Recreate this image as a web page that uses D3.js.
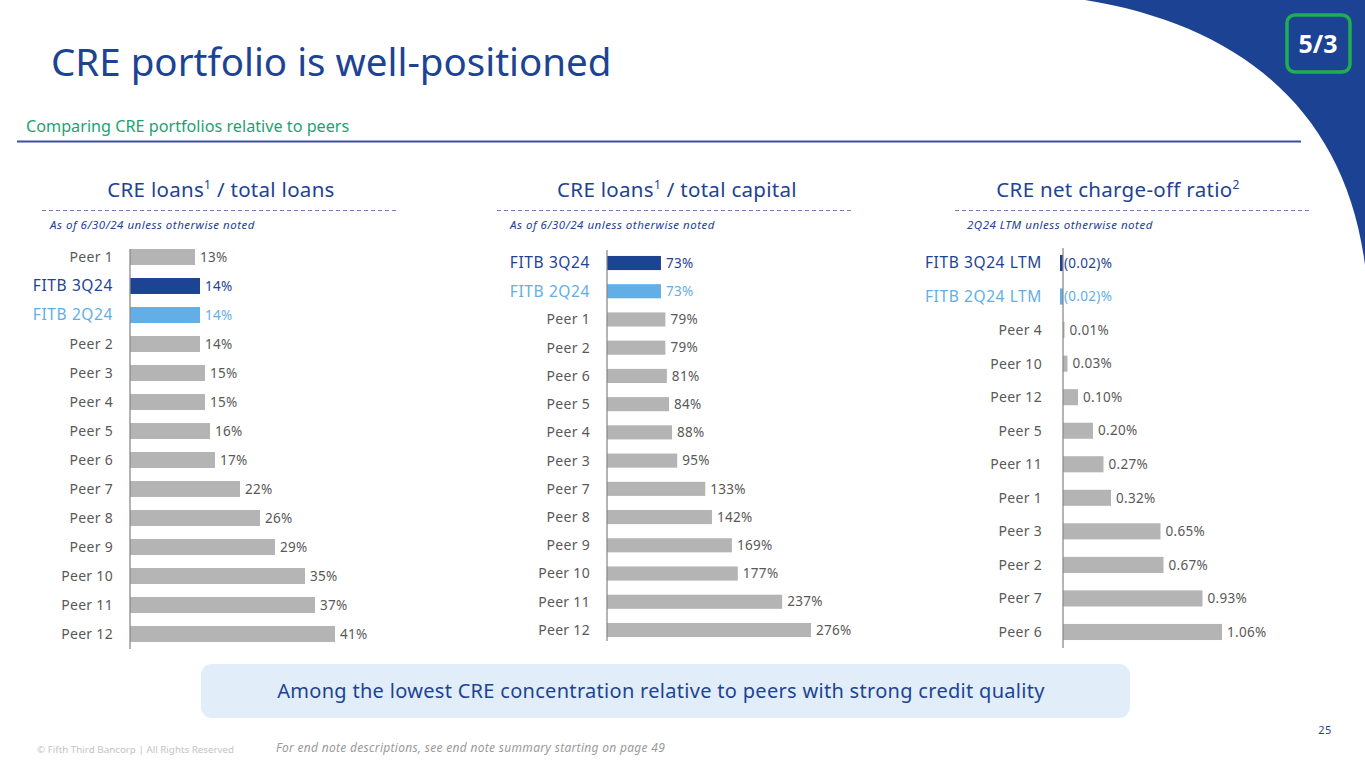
<!DOCTYPE html>
<html>
<head>
<meta charset="utf-8">
<script src="https://cdn.jsdelivr.net/npm/d3@7"></script>
<style>
  html, body { margin: 0; padding: 0; background: #fff; }
  #chart { width: 1365px; height: 768px; }
  text { font-family: "Noto Sans", "Open Sans", sans-serif; }
</style>
</head>
<body>
<div id="chart"></div>
<script>
const loanCats = ["Peer 1", "FITB 3Q24", "FITB 2Q24", "Peer 2", "Peer 3", "Peer 4", "Peer 5", "Peer 6", "Peer 7", "Peer 8", "Peer 9", "Peer 10", "Peer 11", "Peer 12"];
const loanVals = [13, 14, 14, 14, 15, 15, 16, 17, 22, 26, 29, 35, 37, 41];

const capCats = ["FITB 3Q24", "FITB 2Q24", "Peer 1", "Peer 2", "Peer 6", "Peer 5", "Peer 4", "Peer 3", "Peer 7", "Peer 8", "Peer 9", "Peer 10", "Peer 11", "Peer 12"];
const capVals = [73, 73, 79, 79, 81, 84, 88, 95, 133, 142, 169, 177, 237, 276];

const ncoCats = ["FITB 3Q24 LTM", "FITB 2Q24 LTM", "Peer 4", "Peer 10", "Peer 12", "Peer 5", "Peer 11", "Peer 1", "Peer 3", "Peer 2", "Peer 7", "Peer 6"];
const ncoVals = [-0.02, -0.02, 0.01, 0.03, 0.10, 0.20, 0.27, 0.32, 0.65, 0.67, 0.93, 1.06];

const NAVY = "#1d4393";
const LIGHT = "#62aee6";
const GREY = "#b4b4b4";
const TEXT_GREY = "#595959";

const svg = d3.select("#chart").append("svg")
  .attr("width", 1365).attr("height", 768)
  .attr("viewBox", "0 0 1365 768");

// top-right corner swoosh + logo
svg.append("path")
  .attr("d", "M1085,0 C1240,25 1345,110 1365,265 L1365,0 Z")
  .attr("fill", "#1c4393");

svg.append("rect")
  .attr("x", 1287).attr("y", 15).attr("width", 63).attr("height", 57).attr("rx", 8)
  .attr("fill", "#1c4393").attr("stroke", "#1fae52").attr("stroke-width", 3.5);
svg.append("text")
  .attr("x", 1318).attr("y", 53).attr("text-anchor", "middle")
  .attr("fill", "#fff").attr("font-size", 25).attr("font-weight", 700)
  .text("5/3");

// header
svg.append("text")
  .attr("x", 51).attr("y", 76)
  .attr("fill", NAVY).attr("font-size", 38.5)
  .text("CRE portfolio is well-positioned");

svg.append("text")
  .attr("x", 26).attr("y", 132)
  .attr("fill", "#1f9f73").attr("font-size", 16.2)
  .text("Comparing CRE portfolios relative to peers");

svg.append("line")
  .attr("x1", 17).attr("x2", 1301).attr("y1", 141.5).attr("y2", 141.5)
  .attr("stroke", "#3b4f9e").attr("stroke-width", 2);

function isFitb(name) { return name.startsWith("FITB"); }
function labelColor(name) {
  if (name.startsWith("FITB 3Q24")) return NAVY;
  if (name.startsWith("FITB 2Q24")) return LIGHT;
  return TEXT_GREY;
}
function barColor(name) {
  if (name.startsWith("FITB 3Q24")) return NAVY;
  if (name.startsWith("FITB 2Q24")) return LIGHT;
  return GREY;
}

function panel(opts) {
  const { cats, vals, axisX, pxMax, domainMax, bandTop, bandBottom, padding, fmt,
          titleMain, titleSup, titleRest, titleX, dashX1, dashX2, note, noteX, axisTop, axisBottom, labelGap } = opts;

  const g = svg.append("g");

  // panel title
  const t = g.append("text")
    .attr("x", titleX).attr("y", 197).attr("text-anchor", "middle")
    .attr("fill", NAVY).attr("font-size", 20.5).attr("letter-spacing", 0.3);
  t.append("tspan").text(titleMain);
  t.append("tspan").attr("dy", -8).attr("font-size", 12).text(titleSup);
  if (titleRest) t.append("tspan").attr("dy", 8).text(titleRest);

  g.append("line")
    .attr("x1", dashX1).attr("x2", dashX2).attr("y1", 210.5).attr("y2", 210.5)
    .attr("stroke", "#6f82ba").attr("stroke-width", 1.2).attr("stroke-dasharray", "4,3");

  g.append("text")
    .attr("x", noteX).attr("y", 229)
    .attr("fill", NAVY).attr("font-size", 11.5).attr("font-style", "italic").attr("letter-spacing", 0.5)
    .text(note);

  const y = d3.scaleBand().domain(cats).range([bandTop, bandBottom]).paddingInner(padding).paddingOuter(padding / 2);
  const x = d3.scaleLinear().domain([0, domainMax]).range([axisX, axisX + pxMax]);

  const rows = cats.map((c, i) => ({ name: c, value: vals[i] }));

  g.selectAll("rect.bar").data(rows).join("rect")
    .attr("class", "bar")
    .attr("x", (d) => Math.min(x(0), x(d.value)))
    .attr("y", (d) => y(d.name))
    .attr("width", (d) => Math.abs(x(d.value) - x(0)))
    .attr("height", y.bandwidth())
    .attr("fill", (d) => barColor(d.name));

  g.append("line")
    .attr("x1", axisX).attr("x2", axisX).attr("y1", axisTop).attr("y2", axisBottom)
    .attr("stroke", "#8c8c8c").attr("stroke-width", 1.3);

  g.selectAll("text.cat").data(rows).join("text")
    .attr("class", "cat")
    .attr("x", axisX - labelGap)
    .attr("y", (d) => y(d.name) + y.bandwidth() / 2)
    .attr("dy", "0.35em").attr("text-anchor", "end")
    .attr("font-size", (d) => (isFitb(d.name) ? 15.5 : 14))
    .attr("letter-spacing", (d) => (isFitb(d.name) ? 0.6 : 0.3))
    .attr("fill", (d) => labelColor(d.name))
    .text((d) => d.name);

  g.selectAll("text.val").data(rows).join("text")
    .attr("class", "val")
    .attr("x", (d) => Math.max(x(0), x(d.value)) + (d.value < 0 ? 1 : 5))
    .attr("y", (d) => y(d.name) + y.bandwidth() / 2)
    .attr("dy", "0.35em")
    .attr("font-size", 13.5).attr("letter-spacing", 0.3)
    .attr("fill", (d) => labelColor(d.name))
    .text((d) => fmt(d.value));
}

panel({
  cats: loanCats, vals: loanVals, axisX: 130, domainMax: 41, pxMax: 205,
  bandTop: 242.5, bandBottom: 648.5, padding: 0.45,
  fmt: (v) => `${v}%`,
  titleMain: "CRE loans", titleSup: "1", titleRest: " / total loans", titleX: 221,
  dashX1: 42, dashX2: 398, note: "As of 6/30/24 unless otherwise noted", noteX: 50,
  axisTop: 249, axisBottom: 649, labelGap: 17
});

panel({
  cats: capCats, vals: capVals, axisX: 607, domainMax: 276, pxMax: 204,
  bandTop: 248.9, bandBottom: 644.1, padding: 0.5,
  fmt: (v) => `${v}%`,
  titleMain: "CRE loans", titleSup: "1", titleRest: " / total capital", titleX: 677,
  dashX1: 497, dashX2: 853, note: "As of 6/30/24 unless otherwise noted", noteX: 510,
  axisTop: 250, axisBottom: 641, labelGap: 17
});

panel({
  cats: ncoCats, vals: ncoVals, axisX: 1063, domainMax: 1.06, pxMax: 159,
  bandTop: 246.25, bandBottom: 648.75, padding: 0.52,
  fmt: (v) => (v < 0 ? `(${d3.format(".2f")(-v)})%` : `${d3.format(".2f")(v)}%`),
  titleMain: "CRE net charge-off ratio", titleSup: "2", titleRest: "", titleX: 1118,
  dashX1: 955, dashX2: 1310, note: "2Q24 LTM unless otherwise noted", noteX: 967,
  axisTop: 248, axisBottom: 648, labelGap: 21
});

// callout
svg.append("rect")
  .attr("x", 201).attr("y", 664).attr("width", 929).attr("height", 54).attr("rx", 11)
  .attr("fill", "#e1eefa");
svg.append("text")
  .attr("x", 661).attr("y", 698).attr("text-anchor", "middle")
  .attr("fill", NAVY).attr("font-size", 20).attr("letter-spacing", 0.3)
  .text("Among the lowest CRE concentration relative to peers with strong credit quality");

// footer
svg.append("text")
  .attr("x", 37).attr("y", 753)
  .attr("fill", "#c4c4c4").attr("font-size", 9.8)
  .text("© Fifth Third Bancorp | All Rights Reserved");
svg.append("text")
  .attr("x", 276).attr("y", 752)
  .attr("fill", "#9a9a9a").attr("font-size", 12).attr("font-style", "italic").attr("letter-spacing", 0.3)
  .text("For end note descriptions, see end note summary starting on page 49");
svg.append("text")
  .attr("x", 1325).attr("y", 734).attr("text-anchor", "middle")
  .attr("fill", NAVY).attr("font-size", 11).attr("letter-spacing", 0.5)
  .text("25");
</script>
</body>
</html>
